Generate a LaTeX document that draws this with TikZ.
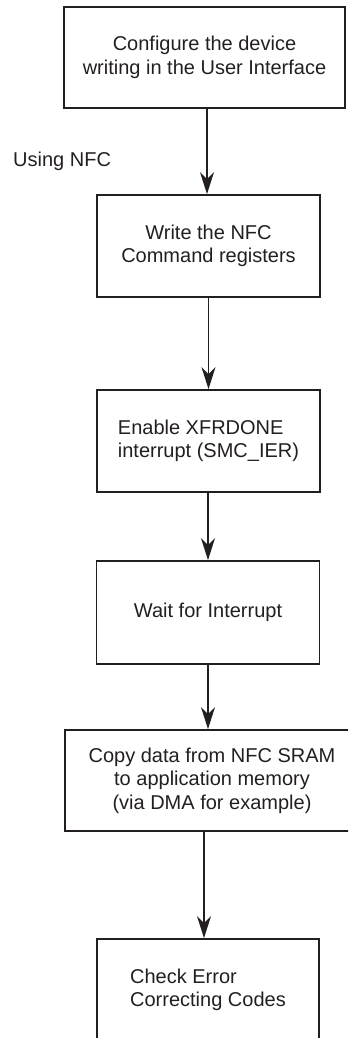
\documentclass[tikz,border=0pt]{standalone}
\usepackage{fontspec}
\setmainfont{Liberation Sans}
\usetikzlibrary{arrows.meta}
\definecolor{trait}{HTML}{231F20}

\begin{document}
\begin{tikzpicture}[
  x=1pt, y=-1pt,
  font=\fontsize{20}{23.5}\selectfont,
  bloc/.style={draw=trait, line width=1.8pt, inner sep=0pt, align=center,
               text=trait, minimum width=223pt, minimum height=102pt},
  fl/.style={-{Stealth[length=22pt, width=14pt, inset=7pt]}, trait, line width=1.7pt},
]
\useasboundingbox (0,0) rectangle (348,1038);
\clip (0,0) rectangle (348,1038);
% ---- les étapes
\node[bloc, minimum width=281pt, minimum height=101pt] (b1) at (204.5,57.5)
  {Configure the device\\writing in the User Interface};
\node[anchor=base west, inner sep=0pt, text=trait] (nfc) at (13,166) {Using NFC};
\node[bloc] (b2) at (208.5,246) {Write the NFC\\Command registers};
\node[bloc, align=left] (b3) at (208.5,441) {Enable XFRDONE\\interrupt (SMC\_IER)};
\node[bloc, minimum height=103pt] (b4) at (208,612.5) {Wait for Interrupt};
\node[bloc, minimum width=294pt, minimum height=101pt] (b5) at (212,780.5)
  {Copy data from NFC SRAM\\to application memory\\(via DMA for example)};
\node[bloc, minimum width=222pt, align=left] (b6) at (208,990)
  {Check Error\\Correcting Codes};
% ---- les flèches
\draw[fl] ([xshift=-1.5pt]b2.north |- b1.south) -- ([xshift=-1.5pt]b2.north);
\draw[fl] (b3.north |- b2.south) -- (b3.north);
\draw[fl] (b4.north |- b3.south) -- (b4.north);
\draw[fl] (b4.south) -- (b4.south |- b5.north);
\draw[fl] ([xshift=-4pt]b6.north |- b5.south) -- ([xshift=-4pt]b6.north);
\end{tikzpicture}
\end{document}
